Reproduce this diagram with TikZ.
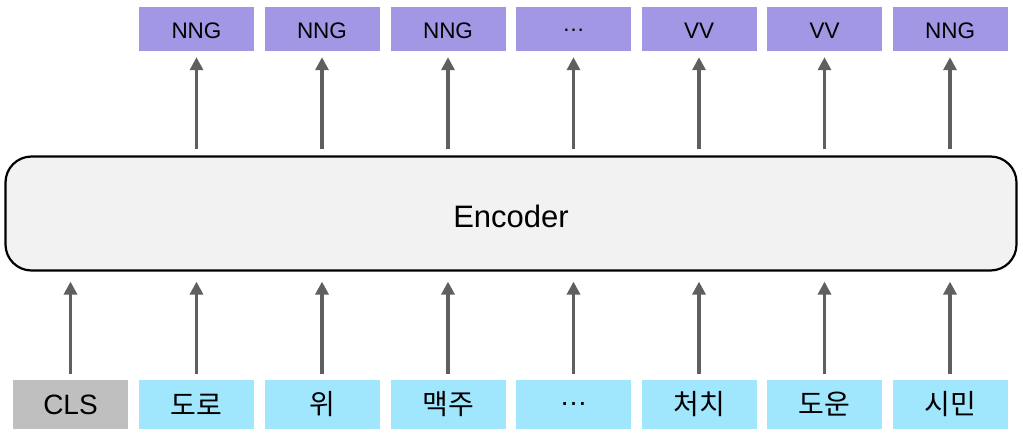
\documentclass[tikz,border=0pt]{standalone}
\usepackage{fontspec}
\setmainfont{Liberation Sans}
\newfontfamily\kr{Noto Sans CJK KR}
\usetikzlibrary{arrows.meta}
\definecolor{tagc}{HTML}{A197E4}
\definecolor{tokc}{HTML}{A0E6FD}
\definecolor{clsc}{HTML}{BFBFBF}
\definecolor{encc}{HTML}{F2F2F2}
\definecolor{arrc}{HTML}{5F5F5F}
\begin{document}
\begin{tikzpicture}[x=1pt,y=-1pt,
  tagbox/.style={fill=tagc, minimum width=115pt, minimum height=44pt, inner sep=0pt, text height=20pt, text depth=0pt, font=\fontsize{22.5}{24}\selectfont},
  tokbox/.style={fill=tokc, minimum width=115pt, minimum height=49pt, inner sep=0pt, font=\fontsize{28}{30}\selectfont},
  encbox/.style={draw=black, line width=2.2pt, fill=encc, rounded corners=26pt, minimum width=1011pt, minimum height=114pt, inner sep=0pt},
  enctext/.style={font=\fontsize{31}{34}\selectfont},
  uparr/.style={draw=arrc, line width=3.7pt, -{Triangle[width=13pt,length=13pt]}}
]
\useasboundingbox (0,0) rectangle (1023,433);
\node[encbox] (enc) at (511,213.5) {};
\node[enctext] (enclabel) at (511,216) {Encoder};
% bottom tokens
\node[tokbox, fill=clsc] (t0) at (70.5,404.5) {CLS};
\node[tokbox] (t1) at (196.5,404.5) {\kr 도로};
\node[tokbox] (t2) at (322,404.5) {\kr 위};
\node[tokbox] (t3) at (448,404.5) {\kr 맥주};
\node[tokbox] (t4) at (573.5,404.5) {…};
\node[tokbox] (t5) at (699,404.5) {\kr 처치};
\node[tokbox] (t6) at (824.5,404.5) {\kr 도운};
\node[tokbox] (t7) at (950,404.5) {\kr 시민};
% top tags
\node[tagbox] (g1) at (196.5,29) {NNG};
\node[tagbox] (g2) at (322,29) {NNG};
\node[tagbox] (g3) at (448,29) {NNG};
\node[tagbox, text height=5pt] (g4) at (573.5,29) {…};
\node[tagbox] (g5) at (699,29) {VV};
\node[tagbox] (g6) at (824.5,29) {VV};
\node[tagbox] (g7) at (950,29) {NNG};
% arrows bottom
\foreach \i in {0,...,7} {
  \draw[uparr] ([yshift=6pt]t\i.north) -- ([yshift=-10pt]t\i.north |- enc.south);
}
\foreach \i in {1,...,7} {
  \draw[uparr] ([yshift=6pt]g\i.south |- enc.north) -- ([yshift=-6pt]g\i.south);
}
\end{tikzpicture}
\end{document}
